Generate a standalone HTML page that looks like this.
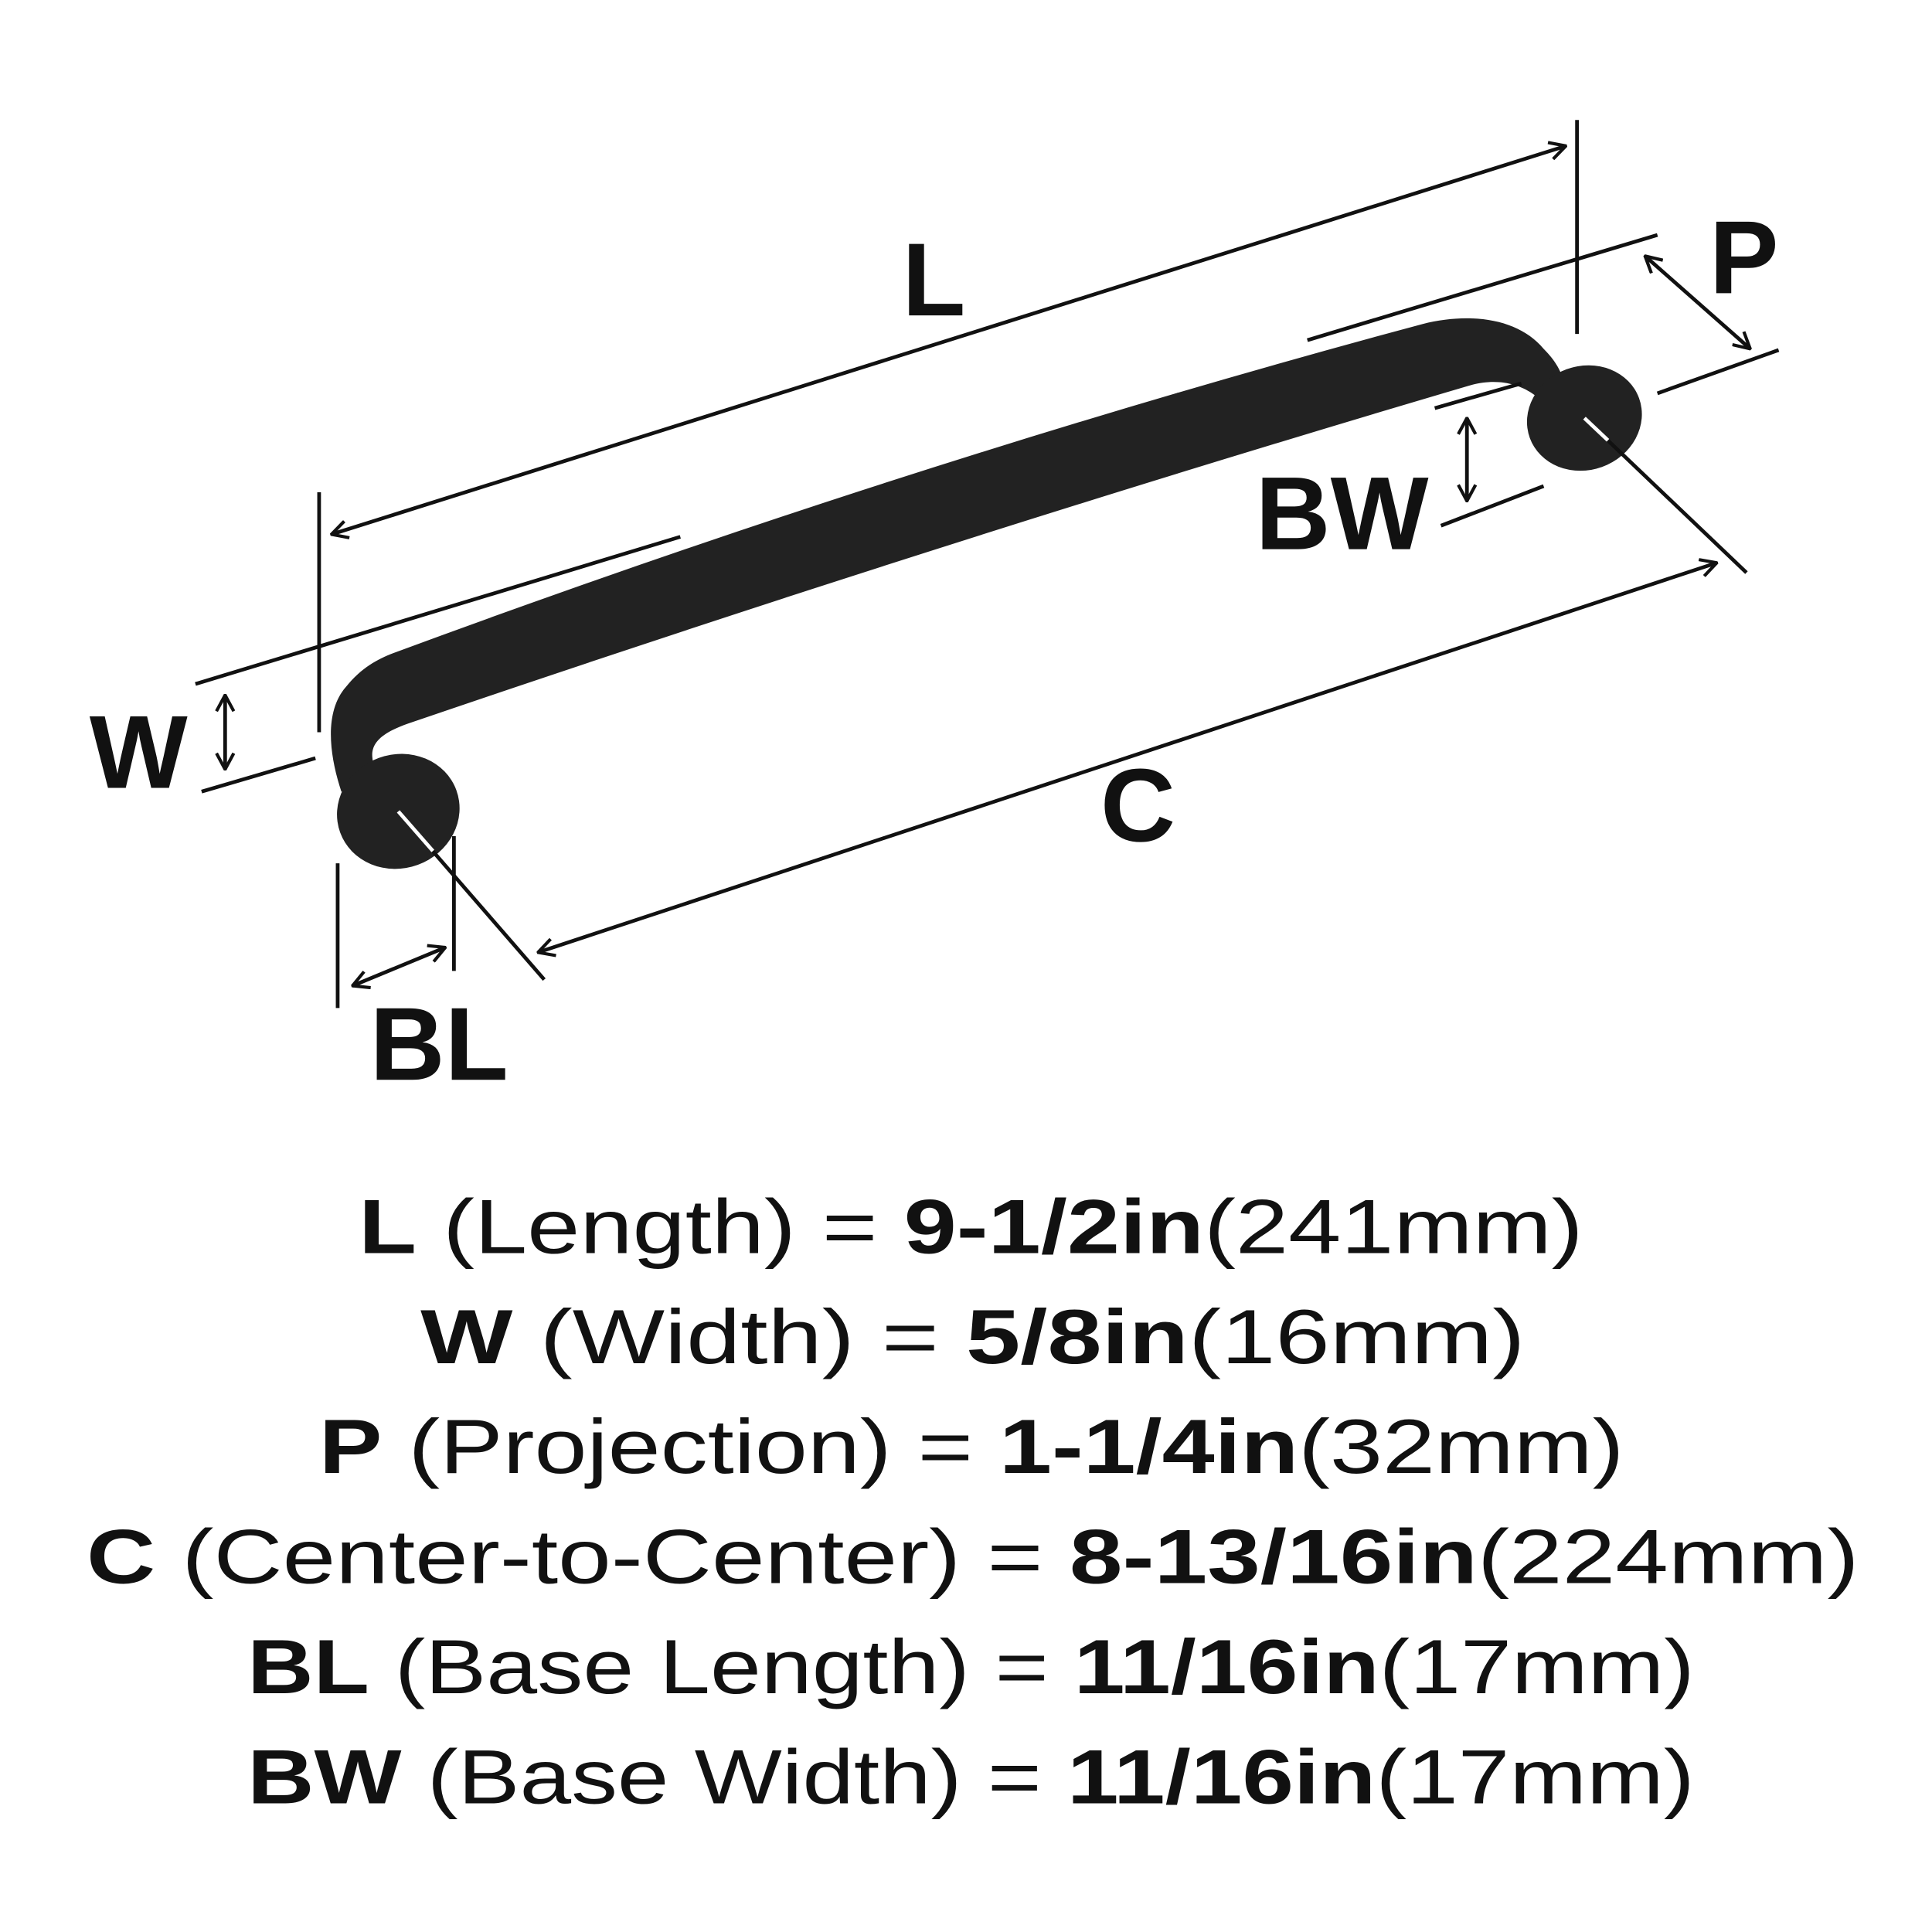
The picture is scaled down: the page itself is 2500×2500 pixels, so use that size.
<!DOCTYPE html>
<html><head><style>html,body{margin:0;padding:0;background:#fff}svg{display:block}</style></head>
<body>
<svg width="2500" height="2500" viewBox="0 0 1562 1562" xmlns="http://www.w3.org/2000/svg">
<defs>
<marker id="a" viewBox="0 0 16 16" refX="15" refY="8" markerWidth="16" markerHeight="16" markerUnits="userSpaceOnUse" orient="auto-start-reverse">
<path d="M2,1 L15,8 L2,15" fill="none" stroke="#111" stroke-width="2.6"/>
</marker>
</defs>
<g fill="#222">
<path d="M276,640 C266,610 262,575 280,555 C292,540 305,533 318,528 Q740,372 1150,262 C1190,252 1228,258 1248,282 C1258,292 1262,300 1265,310 L1244,322 C1230,310 1210,305 1187,312 Q760,438 330,585 C310,592 300,600 301,612 L304,640 Z"/>
<ellipse cx="322" cy="656" rx="50" ry="46" transform="rotate(-20 322 656)"/>
<ellipse cx="1281" cy="338" rx="47" ry="42" transform="rotate(-20 1281 338)"/>
</g>
<g stroke="#111" stroke-width="3" fill="none">
<line x1="268" y1="432" x2="1266" y2="118" marker-start="url(#a)" marker-end="url(#a)"/>
<line x1="258" y1="398" x2="258" y2="592"/>
<line x1="1275" y1="97" x2="1275" y2="270"/>
<line x1="158" y1="553" x2="550" y2="434"/>
<line x1="163" y1="640" x2="255" y2="613"/>
<line x1="182" y1="562" x2="182" y2="622" marker-start="url(#a)" marker-end="url(#a)"/>
<line x1="1057" y1="275" x2="1340" y2="190"/>
<line x1="1340" y1="318" x2="1438" y2="283"/>
<line x1="1330" y1="207" x2="1415" y2="282" marker-start="url(#a)" marker-end="url(#a)"/>
<line x1="1160" y1="330" x2="1230" y2="310"/>
<line x1="1165" y1="425" x2="1248" y2="393"/>
<line x1="1186" y1="338" x2="1186" y2="405" marker-start="url(#a)" marker-end="url(#a)"/>
<line x1="435" y1="770" x2="1388" y2="455" marker-start="url(#a)" marker-end="url(#a)"/>
<line x1="322" y1="656" x2="440" y2="792"/>
<line x1="1281" y1="338" x2="1412" y2="463"/>
<line x1="273" y1="698" x2="273" y2="815"/>
<line x1="367" y1="676" x2="367" y2="785"/>
<line x1="285" y1="797" x2="360" y2="766" marker-start="url(#a)" marker-end="url(#a)"/>
</g>
<line x1="322" y1="656" x2="350" y2="688" stroke="#fff" stroke-width="3"/>
<line x1="1281" y1="338" x2="1300" y2="356" stroke="#fff" stroke-width="3"/>
<g font-family="Liberation Sans, sans-serif" font-weight="bold" font-size="84" fill="#111" text-anchor="middle">
<text x="755" y="255">L</text>
<text x="920" y="680">C</text>
<text x="112" y="637">W</text>
<text x="1410" y="237">P</text>
<text x="1085" y="444">BW</text>
<text x="355" y="873">BL</text>
</g>
<g font-family="Liberation Sans, sans-serif" font-size="62" fill="#111">
<text x="290" y="1013" textLength="990" lengthAdjust="spacingAndGlyphs"><tspan font-weight="bold">L</tspan> (Length) = <tspan font-weight="bold">9-1/2in</tspan>(241mm)</text>
<text x="340" y="1102" textLength="893" lengthAdjust="spacingAndGlyphs"><tspan font-weight="bold">W</tspan> (Width) = <tspan font-weight="bold">5/8in</tspan>(16mm)</text>
<text x="258" y="1191" textLength="1055" lengthAdjust="spacingAndGlyphs"><tspan font-weight="bold">P</tspan> (Projection) = <tspan font-weight="bold">1-1/4in</tspan>(32mm)</text>
<text x="70" y="1280" textLength="1433" lengthAdjust="spacingAndGlyphs"><tspan font-weight="bold">C</tspan> (Center-to-Center) = <tspan font-weight="bold">8-13/16in</tspan>(224mm)</text>
<text x="200" y="1369" textLength="1170" lengthAdjust="spacingAndGlyphs"><tspan font-weight="bold">BL</tspan> (Base Length) = <tspan font-weight="bold">11/16in</tspan>(17mm)</text>
<text x="200" y="1458" textLength="1170" lengthAdjust="spacingAndGlyphs"><tspan font-weight="bold">BW</tspan> (Base Width) = <tspan font-weight="bold">11/16in</tspan>(17mm)</text>
</g>
</svg>
</body></html>
